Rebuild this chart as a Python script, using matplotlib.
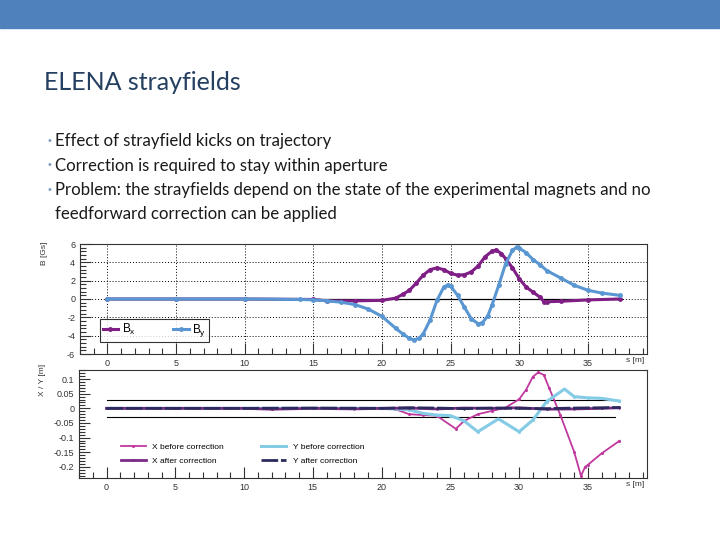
import matplotlib
matplotlib.use("Agg")
import matplotlib.pyplot as plt
from matplotlib.patches import Rectangle
from matplotlib.ticker import MultipleLocator, FormatStrFormatter

plt.rcParams["axes.unicode_minus"] = False

# ---- stray field data (top panel) ----
s_bx = [0, 5, 10, 15, 16, 18, 20, 21, 21.5, 22, 22.5, 23, 23.5, 24, 24.5, 25, 25.5,
        26, 26.5, 27, 27.5, 28, 28.3, 28.7, 29, 29.5, 30, 30.5, 31, 31.5, 31.8, 32,
        33, 35, 37.3]
bx = [0, 0, 0, -0.05, -0.2, -0.2, -0.15, 0.1, 0.5, 0.95, 1.75, 2.6, 3.2, 3.4, 3.2, 2.8, 2.6,
      2.65, 2.95, 3.6, 4.6, 5.2, 5.35, 4.95, 4.4, 3.4, 2.2, 1.3, 0.75, 0.2, -0.3, -0.3,
      -0.25, -0.1, 0]

s_by = [0, 5, 10, 14, 15, 16, 17, 18, 19, 20, 21, 21.5, 22, 22.3, 22.7, 23, 23.5, 24,
        24.5, 24.8, 25, 25.5, 26, 26.5, 27, 27.3, 27.7, 28, 28.5, 29, 29.5, 29.8, 30,
        30.5, 31, 31.5, 32, 33, 34, 35, 36, 37.3]
by = [0, 0, 0, -0.05, -0.1, -0.2, -0.35, -0.6, -1.1, -1.9, -3.2, -3.8, -4.3, -4.45, -4.3,
      -3.8, -2.3, -0.15, 1.3, 1.55, 1.4, 0.4, -0.9, -2.15, -2.7, -2.6, -1.85, -0.7, 1.5,
      3.85, 5.3, 5.65, 5.55, 5.05, 4.3, 3.75, 3.1, 2.3, 1.5, 0.95, 0.65, 0.4]

# ---- trajectory data (bottom panel) ----
s_xb = [0, 5, 10, 12, 14, 20, 21, 22, 23, 24, 25.4, 26, 27, 28, 29, 30, 30.5, 31, 31.4,
        31.8, 32.2, 33, 34, 34.5, 34.8, 35, 36, 37.3]
x_before = [0, 0, 0, -0.003, 0, 0, -0.003, -0.02, -0.023, -0.025, -0.07, -0.043, -0.02,
            -0.009, 0.002, 0.031, 0.063, 0.108, 0.123, 0.114, 0.068, -0.023, -0.148,
            -0.231, -0.2, -0.193, -0.154, -0.111]

s_yb = [0, 5, 10, 15, 20, 22, 23, 24, 25, 26, 27, 28.5, 30, 31, 32, 33.3, 34, 35, 36, 37.3]
y_before = [0, 0, 0, 0, 0, -0.005, -0.017, -0.023, -0.025, -0.043, -0.08, -0.036, -0.08,
            -0.04, 0.023, 0.066, 0.04, 0.036, 0.034, 0.025]

s_xa = [0, 5, 10, 12, 15, 18, 20, 22, 24, 26, 28, 30, 32, 34, 36, 37.3]
x_after = [0, 0, 0, -0.003, 0, -0.002, 0, 0.001, -0.002, 0.001, 0, 0.002, -0.003, -0.002, 0, 0.002]

s_ya = [0, 5, 10, 15, 20, 22, 24, 26, 28, 30, 32, 34, 36, 37.3]
y_after = [0, 0, 0, 0.001, 0, 0.002, 0.001, -0.001, 0.001, 0, -0.001, 0.001, 0.002, 0.003]

aperture = [0.03, -0.03]
aperture_s = [0, 37]

title = "ELENA strayfields"
bullets = [
    "Effect of strayfield kicks on trajectory",
    "Correction is required to stay within aperture",
    "Problem: the strayfields depend on the state of the experimental magnets and no",
]
bullet_cont = "feedforward correction can be applied"

W, H = 720, 540
fig = plt.figure(figsize=(7.2, 5.4), dpi=100)
fig.patches.append(Rectangle((0, 1 - 28 / H), 1, 28 / H, transform=fig.transFigure,
                             color="#4f81bd", zorder=0))

slide_font = ["Lato", "DejaVu Sans"]
fig.text(44 / W, 1 - 82 / H, title, fontsize=18, color="#243f60", family=slide_font,
         va="center", ha="left")
for i, b in enumerate(bullets):
    y = 1 - (141 + 24.5 * i) / H
    fig.text(46 / W, y, "\u2022", fontsize=7, color="#7f9cc0", va="center", ha="left")
    fig.text(55 / W, y, b, fontsize=12.1, color="#1a1a1a", family=slide_font,
             va="center", ha="left")
fig.text(55 / W, 1 - 214 / H, bullet_cont, fontsize=12.1, color="#1a1a1a",
         family=slide_font, va="center", ha="left")

tick_font = "Liberation Sans"
c_bx = "#7f1f86"
c_by = "#5a97d2"


def style_axes(ax):
    ax.set_xlim(-2, 39.3)
    ax.xaxis.set_major_locator(MultipleLocator(5))
    ax.xaxis.set_minor_locator(MultipleLocator(1))
    ax.tick_params(which="both", direction="in", labelsize=6.5, colors="#333333",
                   top=False, right=False)
    ax.tick_params(which="major", length=8, width=0.8)
    ax.tick_params(which="minor", length=4, width=0.8)
    for lab in ax.get_xticklabels() + ax.get_yticklabels():
        lab.set_family(tick_font)
    for sp in ax.spines.values():
        sp.set_color("#333333")
        sp.set_linewidth(0.8)


# ---- top panel ----
ax1 = fig.add_axes([80 / W, 1 - 354 / H, 567 / W, 110 / H])
ax1.plot([0, 37.5], [0, 0], color="black", lw=0.9, zorder=2)
ax1.plot(s_bx, bx, color=c_bx, lw=2.2, marker="o", ms=2.5,
         label=r"B$_\mathregular{x}$", zorder=3)
ax1.plot(s_by, by, color=c_by, lw=2.2, marker="o", ms=2.5,
         label=r"B$_\mathregular{y}$", zorder=4)
ax1.set_ylim(-6, 6)
ax1.yaxis.set_major_locator(MultipleLocator(2))
ax1.yaxis.set_minor_locator(MultipleLocator(0.4))
ax1.grid(True, which="major", linestyle=(0, (1, 2)), color="black", lw=0.7)
style_axes(ax1)
leg1 = ax1.legend(loc="lower left", bbox_to_anchor=(0.035, 0.11), ncol=2,
                  frameon=True, fancybox=False, edgecolor="black", handlelength=1.3,
                  columnspacing=3.2, borderpad=0.25, handletextpad=0.3, borderaxespad=0,
                  prop={"family": tick_font, "size": 8.5})
leg1.get_frame().set_linewidth(0.8)
fig.text(45 / W, 1 - 253 / H, "B [Gs]", rotation=90, fontsize=6, family=tick_font,
         color="#333333", ha="center", va="center")
fig.text(626 / W, 1 - 360 / H, "s [m]", fontsize=6, family=tick_font, color="#333333",
         ha="left", va="center")

# ---- bottom panel ----
ax2 = fig.add_axes([79 / W, 1 - 478 / H, 568 / W, 108 / H])
for a in aperture:
    ax2.plot(aperture_s, [a, a], color="black", lw=0.8, zorder=2)
ax2.plot(s_xb, x_before, color="#c0399e", lw=1.3, marker="o", ms=1.2,
         label="X before correction", zorder=3)
ax2.plot(s_xa, x_after, color="#7b2c85", lw=2.0, marker="+", ms=2,
         label="X after correction", zorder=5)
ax2.plot(s_yb, y_before, color="#84cbe6", lw=2.2, marker="o", ms=1.2,
         label="Y before correction", zorder=4)
ax2.plot(s_ya, y_after, color="#2d2a5e", lw=2.0, marker="+", ms=2, ls=(0, (6, 1)),
         label="Y after correction", zorder=6)
ax2.set_ylim(-0.238, 0.131)
ax2.yaxis.set_major_locator(MultipleLocator(0.05))
ax2.yaxis.set_minor_locator(MultipleLocator(0.01))
ax2.yaxis.set_major_formatter(FormatStrFormatter("%g"))
style_axes(ax2)
leg2 = ax2.legend(loc="lower left", bbox_to_anchor=(0.06, 0.05), ncol=2, frameon=False,
                  handlelength=3, columnspacing=4.5, labelspacing=0.8,
                  prop={"family": tick_font, "size": 6})
fig.text(43 / W, 1 - 380 / H, "X / Y [m]", rotation=90, fontsize=6, family=tick_font,
         color="#333333", ha="center", va="center")
fig.text(626 / W, 1 - 485 / H, "s [m]", fontsize=6, family=tick_font, color="#333333",
         ha="left", va="center")

fig.savefig("out.png", dpi=100)
